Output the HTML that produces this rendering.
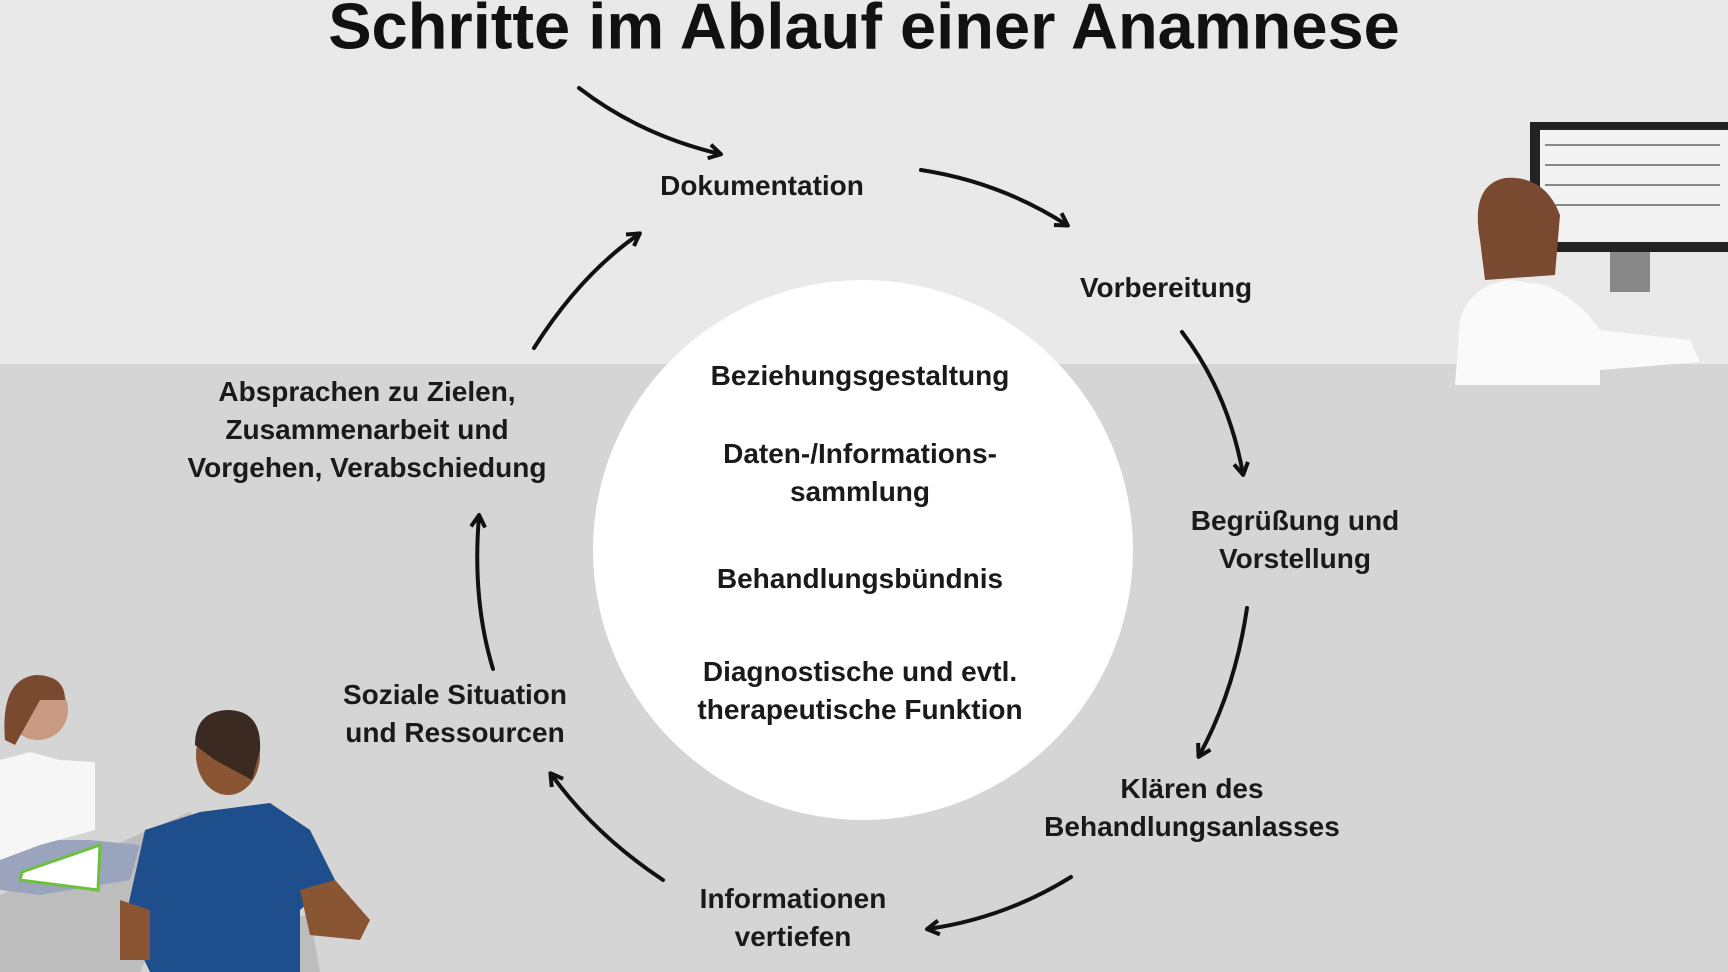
<!DOCTYPE html>
<html><head><meta charset="utf-8"><style>
html,body{margin:0;padding:0}
body{width:1728px;height:972px;overflow:hidden;position:relative;background:#d5d5d5;font-family:"Liberation Sans","DejaVu Sans",sans-serif}
.top{position:absolute;left:0;top:0;width:1728px;height:364px;background:#e9e9e9}
.t{position:absolute;transform:translate(-50%,-50%);text-align:center;font-weight:bold;font-size:28px;line-height:38px;color:#1a1a1a;white-space:nowrap}
h1{position:absolute;left:864px;top:26px;transform:translate(-50%,-50%);margin:0;font-size:65px;font-weight:bold;color:#111;white-space:nowrap}
svg{position:absolute;left:0;top:0}
</style></head><body>
<div class="top"></div>
<svg width="1728" height="972">
<defs><marker id="a" markerWidth="18" markerHeight="18" refX="13" refY="9" orient="auto" markerUnits="userSpaceOnUse"><path d="M2,2 L14,9 L2,16" fill="none" stroke="#111" stroke-width="4" stroke-linejoin="round"/></marker></defs>
<rect x="1530" y="122" width="198" height="130" fill="#222"/>
<rect x="1540" y="130" width="188" height="112" fill="#f3f3f3"/>
<g stroke="#888" stroke-width="2"><line x1="1545" y1="145" x2="1720" y2="145"/><line x1="1545" y1="165" x2="1720" y2="165"/><line x1="1545" y1="185" x2="1720" y2="185"/><line x1="1545" y1="205" x2="1720" y2="205"/></g>
<rect x="1610" y="252" width="40" height="40" fill="#888"/>
<path d="M1455,385 L1460,320 Q1470,285 1510,280 L1545,285 Q1580,300 1600,330 L1690,340 L1700,362 L1600,370 L1600,385 Z" fill="#fafafa"/>
<path d="M1480,240 Q1470,185 1505,178 Q1545,175 1560,215 L1555,275 L1485,280 Z" fill="#7a4a30"/>
<path d="M0,895 L190,812 L205,830 L140,972 L0,972 Z" fill="#bdbdbd"/>
<path d="M0,850 L40,840 L90,840 L140,845 L130,880 L40,895 L0,890 Z" fill="#9aa5bd"/>
<path d="M22,872 L100,845 L98,890 L20,880 Z" fill="#fff" stroke="#6cc13c" stroke-width="3"/>
<path d="M0,760 L30,752 L60,760 L95,762 L95,830 L40,845 L0,860 Z" fill="#f6f6f6"/>
<circle cx="38" cy="710" r="30" fill="#c99a82"/>
<path d="M5,740 Q0,680 35,675 Q65,675 65,700 L40,700 L15,745 Z" fill="#7a4a30"/>
<path d="M165,972 L175,930 L310,915 L320,972 Z" fill="#bdbdbd"/>
<path d="M125,920 L145,830 L200,812 L270,803 L310,830 L335,880 L300,910 L300,972 L150,972 Z" fill="#1f4e8c"/>
<path d="M300,890 L335,880 L370,920 L360,940 L310,935 Z" fill="#8a5533"/>
<path d="M120,900 L150,910 L150,960 L120,960 Z" fill="#8a5533"/>
<ellipse cx="228" cy="755" rx="32" ry="40" fill="#8a5533"/>
<path d="M195,745 Q195,710 230,710 Q262,712 260,750 L252,780 L215,760 Z" fill="#3a2a22"/>
<circle cx="863" cy="550" r="270" fill="#fff"/>
<g fill="none" stroke="#111" stroke-width="4" stroke-linecap="round" marker-end="url(#a)">
<path d="M579,88 Q640,135 720,154"/>
<path d="M921,170 Q1000,182 1067,225"/>
<path d="M1182,332 Q1228,392 1243,474"/>
<path d="M1247,608 Q1235,690 1199,756"/>
<path d="M1071,877 Q1005,918 928,929"/>
<path d="M663,880 Q595,835 551,774"/>
<path d="M493,669 Q472,600 479,516"/>
<path d="M534,348 Q580,275 639,234"/>
</g>
</svg>
<h1>Schritte im Ablauf einer Anamnese</h1>
<div class="t" style="left:762px;top:186px">Dokumentation</div>
<div class="t" style="left:1166px;top:288px">Vorbereitung</div>
<div class="t" style="left:1295px;top:540px">Begrüßung und<br>Vorstellung</div>
<div class="t" style="left:1192px;top:808px">Klären des<br>Behandlungsanlasses</div>
<div class="t" style="left:793px;top:918px">Informationen<br>vertiefen</div>
<div class="t" style="left:455px;top:714px">Soziale Situation<br>und Ressourcen</div>
<div class="t" style="left:367px;top:430px">Absprachen zu Zielen,<br>Zusammenarbeit und<br>Vorgehen, Verabschiedung</div>
<div class="t" style="left:860px;top:376px">Beziehungsgestaltung</div>
<div class="t" style="left:860px;top:473px">Daten-/Informations-<br>sammlung</div>
<div class="t" style="left:860px;top:579px">Behandlungsbündnis</div>
<div class="t" style="left:860px;top:691px">Diagnostische und evtl.<br>therapeutische Funktion</div>
</body></html>
